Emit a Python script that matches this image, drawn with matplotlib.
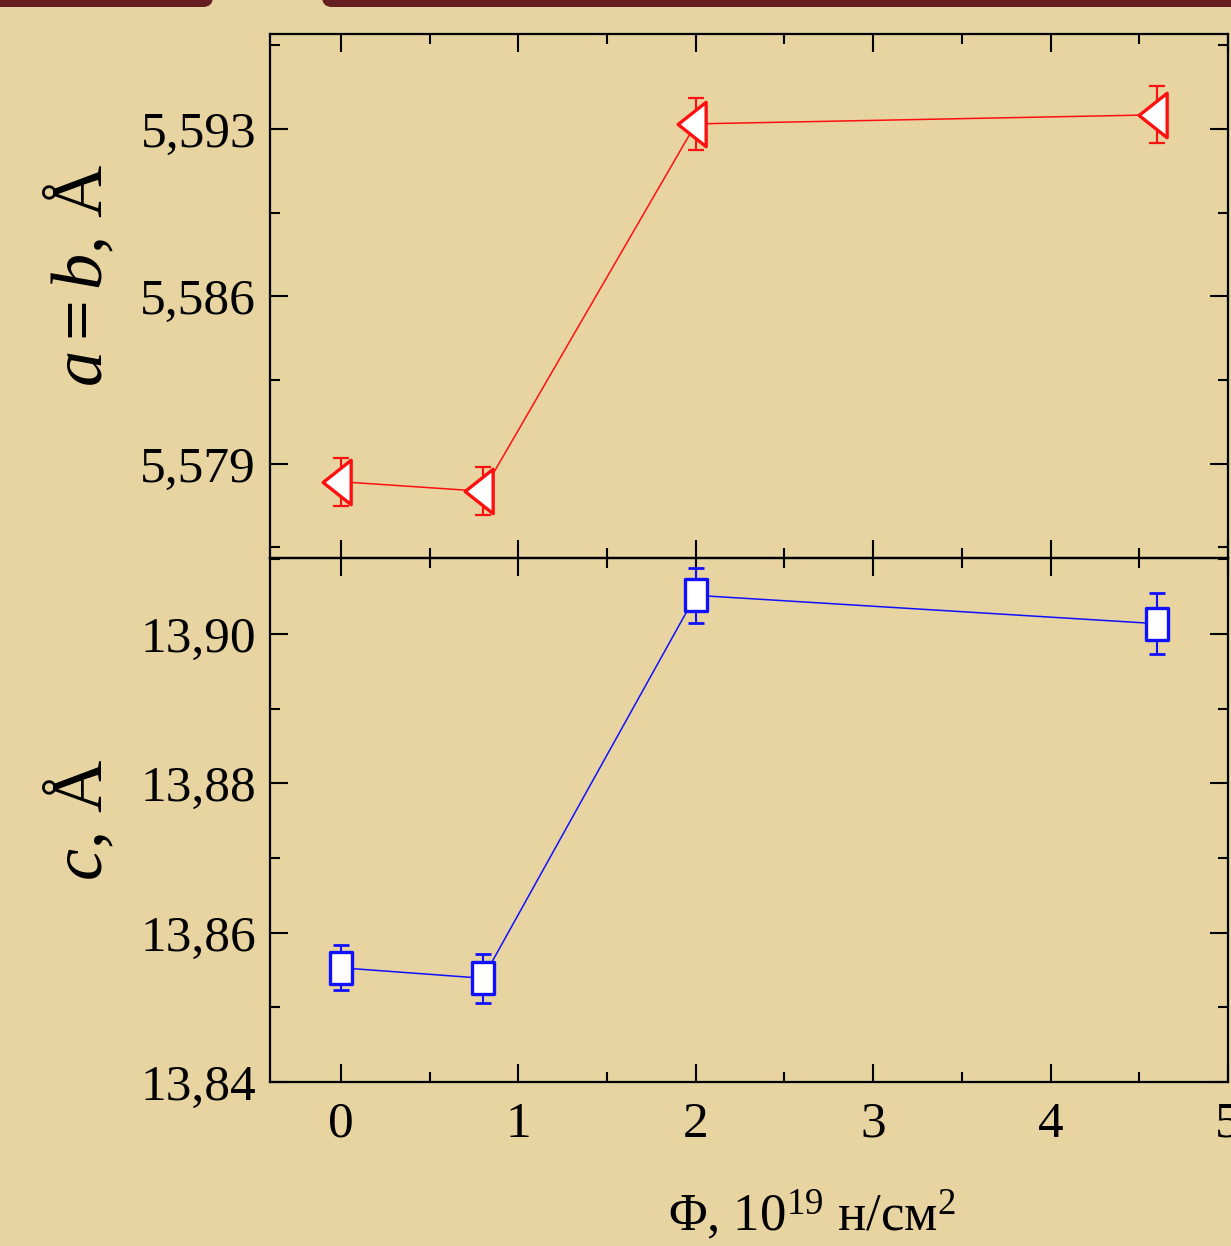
import numpy as np
import matplotlib
matplotlib.use("Agg")
import matplotlib.pyplot as plt
from matplotlib.path import Path
from matplotlib.patches import FancyBboxPatch
from matplotlib.ticker import MultipleLocator, FuncFormatter

plt.rcParams['font.family'] = ['Liberation Serif', 'DejaVu Serif']
plt.rcParams['mathtext.fontset'] = 'custom'
plt.rcParams['mathtext.rm'] = 'Liberation Serif'
plt.rcParams['mathtext.it'] = 'Liberation Serif:italic'

# fluence, 10^19 n/cm^2
fluence = [0, 0.8, 2, 4.6]
# lattice parameter a=b, Angstrom
a_vals = [5.57825, 5.57785, 5.59322, 5.5936]
a_err = [0.0010, 0.0010, 0.0011, 0.0012]
# lattice parameter c, Angstrom
c_vals = [13.8553, 13.8539, 13.9052, 13.9014]
c_err = [0.0030, 0.0033, 0.0037, 0.0041]

BG = '#E7D4A0'

# markers stretched vertically like in the original picture
tri_left = Path([(-19, 0), (10, 23), (10, -23), (-19, 0)], closed=True)
tall_square = Path([(-10.5, -15.5), (10.5, -15.5), (10.5, 15.5), (-10.5, 15.5), (-10.5, -15.5)], closed=True)

fig = plt.figure(figsize=(12.31, 12.46), dpi=100)
fig.patch.set_facecolor(BG)

W, H = 1231.0, 1246.0
left, right = 270 / W, 1228 / W
ax1 = fig.add_axes([left, 1 - 558 / H, right - left, (558 - 34) / H])
ax2 = fig.add_axes([left, 1 - 1082 / H, right - left, (1082 - 558) / H], sharex=ax1)

for ax in (ax1, ax2):
    ax.set_facecolor('none')
    for s in ax.spines.values():
        s.set_linewidth(1.6)
    ax.tick_params(which='both', direction='in', top=True, right=True, width=1.5)
    ax.tick_params(which='major', length=13, labelsize=37, pad=10)
    ax.tick_params(which='minor', length=7)

# top panel: a = b
ax1.errorbar(fluence, a_vals, yerr=a_err, fmt='none', ecolor='#FF1010',
             elinewidth=1.5, capsize=5.5, capthick=1.6, zorder=2)
ax1.plot(fluence, a_vals, color='#FF1010', lw=1.1, marker=tri_left, ms=32,
         mfc='white', mec='#FF1010', mew=2.4, zorder=3)
ax1.set_ylim(5.57506, 5.59698)
ax1.set_yticks([5.579, 5.586, 5.593])
ax1.yaxis.set_minor_locator(MultipleLocator(0.0035))
ax1.yaxis.set_major_formatter(FuncFormatter(lambda v, p: f'{v:.3f}'.replace('.', ',')))
ax1.tick_params(axis='x', labelbottom=False)

# bottom panel: c
ax2.errorbar(fluence, c_vals, yerr=c_err, fmt='none', ecolor='#1010FF',
             elinewidth=1.5, capsize=5.5, capthick=2, zorder=2)
ax2.plot(fluence, c_vals, color='#1010FF', lw=1.1, marker=tall_square, ms=22.5,
         mfc='white', mec='#1010FF', mew=2.4, zorder=3)
ax2.set_ylim(13.84, 13.9102)
ax2.set_yticks([13.84, 13.86, 13.88, 13.90])
ax2.yaxis.set_minor_locator(MultipleLocator(0.01))
ax2.yaxis.set_major_formatter(FuncFormatter(lambda v, p: f'{v:.2f}'.replace('.', ',')))

ax2.set_xlim(-0.4, 5.0)
ax2.set_xticks([0, 1, 2, 3, 4, 5])
ax2.xaxis.set_minor_locator(MultipleLocator(0.5))
ax2.tick_params(axis='x', which='major', pad=14)

# axis titles
fig.text(80 / W, 1 - 275 / H, r'$a=b$, Å', rotation=90, fontsize=52,
         ha='center', va='center')
fig.text(80 / W, 1 - 820 / H, r'$c$, Å', rotation=90, fontsize=52,
         ha='center', va='center')
fig.text(668 / W, 1 - 1231 / H, r'Φ, 10$^{19}$ н/см$^{2}$', fontsize=38,
         ha='left', va='baseline')

# dark red header strip with a rounded notch
red = '#661E21'
fig.add_artist(FancyBboxPatch((-1.0, 12.39), 3.13, 0.5,
                              boxstyle='round,pad=0,rounding_size=0.1',
                              transform=fig.dpi_scale_trans, fc=red, ec='none'))
fig.add_artist(FancyBboxPatch((3.22, 12.39), 10.0, 0.5,
                              boxstyle='round,pad=0,rounding_size=0.1',
                              transform=fig.dpi_scale_trans, fc=red, ec='none'))

fig.savefig('out.png', dpi=100, facecolor=BG)
